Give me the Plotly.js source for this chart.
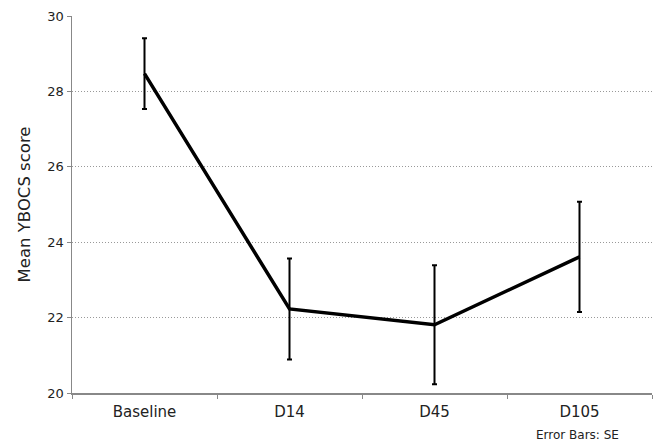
<!DOCTYPE html>
<html><head><meta charset="utf-8">
<script src="https://cdn.plot.ly/plotly-3.0.1.min.js"></script>
<style>html,body{margin:0;padding:0;background:#fff}#chart{width:654px;height:443px}</style>
</head><body><div id="chart"></div>
<script>
const categories = ["Baseline", "D14", "D45", "D105"];
const meanScores = [28.47, 22.23, 21.81, 23.61];
const seValues = [0.94, 1.34, 1.58, 1.46];
const yTicks = [20, 22, 24, 26, 28, 30];

const trace = {
  type: "scatter", mode: "lines",
  x: categories, y: meanScores,
  line: {color: "#000", width: 3.5},
  error_y: {type: "data", array: seValues, visible: true, color: "#000", thickness: 2, width: 2.5},
  hoverinfo: "none"
};
const layout = {
  width: 654, height: 443,
  margin: {l: 72, r: 2, t: 16, b: 50},
  paper_bgcolor: "#fff", plot_bgcolor: "#fff",
  font: {family: "DejaVu Sans", color: "#222"},
  showlegend: false,
  xaxis: {
    type: "category", range: [-0.5, 3.5], tickson: "boundaries",
    showline: true, linecolor: "#888", linewidth: 1.5,
    ticks: "outside", ticklen: 4, tickcolor: "#888",
    showgrid: false, zeroline: false, ticklabelstandoff: 4,
    tickfont: {size: 15, color: "#222"}
  },
  yaxis: {
    range: [20, 30], tickvals: yTicks,
    showline: true, linecolor: "#888", linewidth: 1.5,
    ticks: "outside", ticklen: 4, tickcolor: "#888",
    showgrid: true, gridcolor: "#999", griddash: "1px,2px", gridwidth: 1,
    zeroline: false,
    tickfont: {size: 13, color: "#222"},
    title: {text: "Mean YBOCS score", font: {size: 16.5, color: "#222"}, standoff: 12}
  },
  annotations: [{
    text: "Error Bars: SE", xref: "paper", yref: "paper",
    x: 0.945, y: -0.112, xanchor: "right", yanchor: "middle",
    showarrow: false, font: {size: 12, color: "#222"}, borderpad: 0
  }]
};
Plotly.newPlot("chart", [trace], layout, {displayModeBar: false, staticPlot: true});
</script></body></html>
